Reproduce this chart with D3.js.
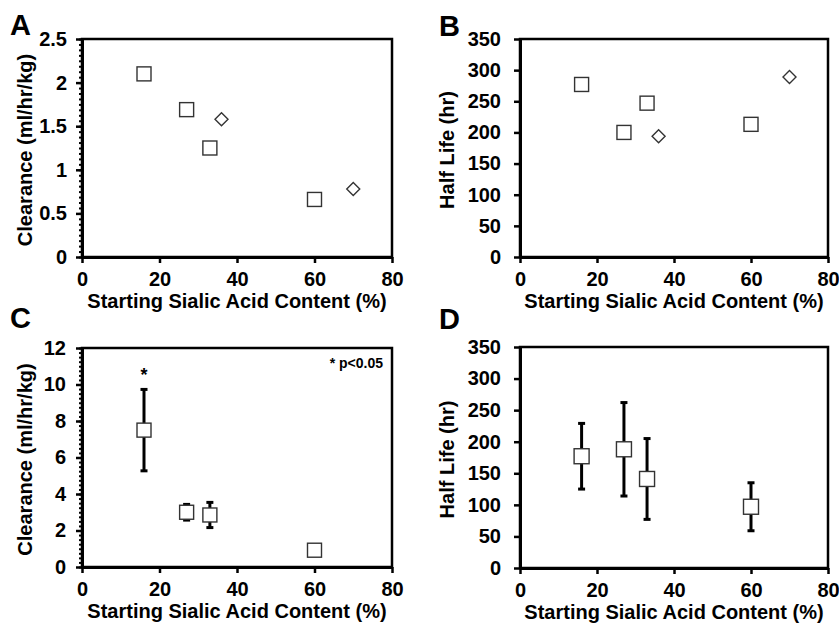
<!DOCTYPE html>
<html>
<head>
<meta charset="utf-8">
<script src="https://cdn.jsdelivr.net/npm/d3@7"></script>
<style>
  body { margin: 0; background: #fff; }
  text { font-family: "Liberation Sans", Arial, sans-serif; font-weight: bold; }
</style>
</head>
<body>
<svg width="839" height="625"></svg>
<script>
// sialic acid content (%) for each form
var sialicSq = [16, 27, 33, 60];
var sialicDia = [36, 70];

// panel A: clearance (ml/hr/kg)
var clearSq = [2.1, 1.69, 1.25, 0.66];
var clearDia = [1.58, 0.78];

// panel B: half life (hr)
var halfSq = [277, 200, 247, 213];
var halfDia = [194, 289];

// panel C: clearance mean and error
var clearMean = [7.5, 3.0, 2.85, 0.92];
var clearErr = [2.23, 0.43, 0.69, 0.1];

// panel D: half life mean and error
var halfMean = [177, 188, 141, 97];
var halfErr = [52, 74, 64, 38];

var xTicks = [0, 20, 40, 60, 80];
var xTitle = "Starting Sialic Acid Content (%)";

var svg = d3.select('svg');

function drawPanel(p) {
    var x = d3.scaleLinear().domain([0, 80]).range([p.left, p.right]);
    var y = d3.scaleLinear().domain([0, p.ymax]).range([p.bottom, p.top]);
    var g = svg.append('g');

    // frame
    g.append('rect')
        .attr('x', p.left).attr('y', p.top)
        .attr('width', p.right - p.left).attr('height', p.bottom - p.top)
        .attr('fill', 'none').attr('stroke', '#000').attr('stroke-width', 2.5);

    // minor ticks
    if (p.minor) {
        g.append('g')
            .attr('transform', 'translate(' + p.left + ',0)')
            .call(d3.axisLeft(y).tickValues(d3.range(0, p.ymax + 1e-9, p.minor)).tickSize(3).tickFormat(''))
            .call(function(s) { s.select('.domain').remove(); })
            .selectAll('line').attr('stroke-width', 2);
    }

    var ya = g.append('g')
        .attr('transform', 'translate(' + p.left + ',0)')
        .call(d3.axisLeft(y).tickValues(p.yTicks).tickSize(6).tickSizeOuter(0).tickPadding(p.ypad).tickFormat(function(d) { return d; }));
    var xa = g.append('g')
        .attr('transform', 'translate(0,' + p.bottom + ')')
        .call(d3.axisBottom(x).tickValues(xTicks).tickSize(6).tickSizeOuter(0).tickPadding(9));

    [ya, xa].forEach(function(a) {
        a.select('.domain').attr('stroke-width', 3);
        a.selectAll('.tick line').attr('stroke-width', 2.5);
        a.selectAll('text')
            .style('font-size', '20px')
            .style('font-family', '"Liberation Sans", Arial, sans-serif')
            .style('font-weight', 'bold')
            .attr('fill', '#000');
    });

    // axis titles
    g.append('text')
        .attr('x', (p.left + p.right) / 2)
        .attr('y', p.bottom + 51)
        .attr('text-anchor', 'middle')
        .style('font-size', '20px')
        .text(xTitle);
    g.append('text')
        .attr('transform', 'translate(' + (p.left - p.ytOff) + ',' + ((p.top + p.bottom) / 2 + 2) + ') rotate(-90)')
        .attr('text-anchor', 'middle')
        .style('font-size', '20px')
        .text(p.yTitle);

    // panel letter
    g.append('text')
        .attr('x', p.letterX).attr('y', p.letterY)
        .style('font-size', '29px')
        .text(p.letter);

    // error bars
    if (p.err) {
        var eb = g.selectAll('.eb').data(p.mean).enter().append('g');
        eb.append('line')
            .attr('x1', function(d, i) { return x(sialicSq[i]); })
            .attr('x2', function(d, i) { return x(sialicSq[i]); })
            .attr('y1', function(d, i) { return y(d - p.err[i]); })
            .attr('y2', function(d, i) { return y(d + p.err[i]); })
            .attr('stroke', '#000').attr('stroke-width', 3);
        [-1, 1].forEach(function(sgn) {
            eb.append('line')
                .attr('x1', function(d, i) { return x(sialicSq[i]) - 3.5; })
                .attr('x2', function(d, i) { return x(sialicSq[i]) + 3.5; })
                .attr('y1', function(d, i) { return y(d + sgn * p.err[i]); })
                .attr('y2', function(d, i) { return y(d + sgn * p.err[i]); })
                .attr('stroke', '#000').attr('stroke-width', 3);
        });
    }

    // squares
    var s = p.sq;
    g.selectAll('.sq').data(p.mean).enter().append('rect')
        .attr('x', function(d, i) { return x(sialicSq[i]) - s / 2; })
        .attr('y', function(d) { return y(d) - s / 2; })
        .attr('width', s).attr('height', s)
        .attr('fill', '#fff').attr('stroke', '#333').attr('stroke-width', 1.4);

    // diamonds
    if (p.dia) {
        g.selectAll('.dia').data(p.dia).enter().append('path')
            .attr('d', function(d, i) {
                var cx = x(sialicDia[i]), cy = y(d), r = 6.5;
                return 'M' + cx + ',' + (cy - r) + 'L' + (cx + r) + ',' + cy + 'L' + cx + ',' + (cy + r) + 'L' + (cx - r) + ',' + cy + 'Z';
            })
            .attr('fill', '#fff').attr('stroke', '#333').attr('stroke-width', 1.4);
    }
    return { x: x, y: y, g: g };
}

drawPanel({ letter: 'A', letterX: 10, letterY: 35, left: 82, right: 392, top: 39, bottom: 257,
    ymax: 2.5, yTicks: [0, 0.5, 1, 1.5, 2, 2.5], minor: 0.0625, ypad: 9, ytOff: 50,
    yTitle: 'Clearance (ml/hr/kg)', mean: clearSq, dia: clearDia, sq: 14 });

drawPanel({ letter: 'B', letterX: 439, letterY: 36, left: 520, right: 828, top: 39, bottom: 257,
    ymax: 350, yTicks: [0, 50, 100, 150, 200, 250, 300, 350], ypad: 13, ytOff: 66,
    yTitle: 'Half Life (hr)', mean: halfSq, dia: halfDia, sq: 14 });

var pc = drawPanel({ letter: 'C', letterX: 10, letterY: 328, left: 82, right: 392, top: 348, bottom: 567,
    ymax: 12, yTicks: [0, 2, 4, 6, 8, 10, 12], minor: 0.25, ypad: 10, ytOff: 50,
    yTitle: 'Clearance (ml/hr/kg)', mean: clearMean, err: clearErr, sq: 14 });

drawPanel({ letter: 'D', letterX: 439, letterY: 329, left: 520, right: 828, top: 347, bottom: 568,
    ymax: 350, yTicks: [0, 50, 100, 150, 200, 250, 300, 350], ypad: 13, ytOff: 66,
    yTitle: 'Half Life (hr)', mean: halfMean, err: halfErr, sq: 15 });

// significance marks on panel C
pc.g.append('text')
    .attr('x', pc.x(sialicSq[0]))
    .attr('y', pc.y(clearMean[0] + clearErr[0]) - 8)
    .attr('text-anchor', 'middle')
    .style('font-size', '18px')
    .text('*');
pc.g.append('text')
    .attr('x', 383)
    .attr('y', 368)
    .attr('text-anchor', 'end')
    .style('font-size', '14px')
    .text('* p<0.05');
</script>
</body>
</html>
